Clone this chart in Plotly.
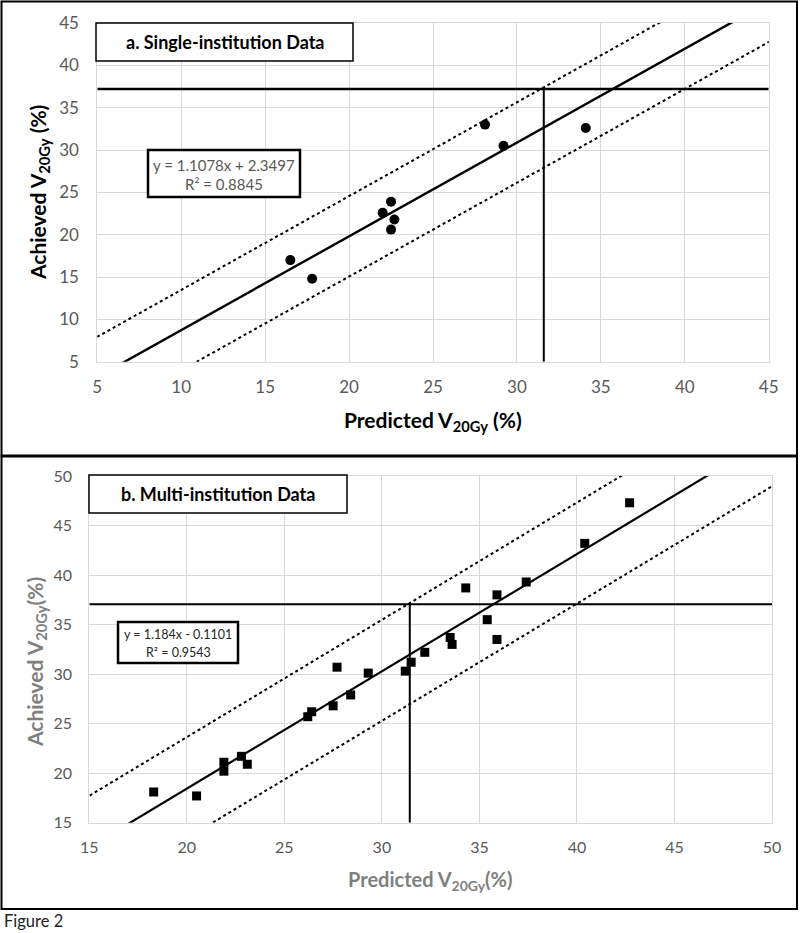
import plotly.graph_objects as go

# ---------------- data ----------------
# Panel a: single-institution
pred_a = [16.5, 17.8, 22.0, 22.5, 22.7, 22.5, 28.1, 29.2, 34.1]
ach_a = [17.0, 14.8, 22.6, 23.9, 21.8, 20.6, 33.0, 30.5, 32.6]
slope_a = 1.1078
icpt_a_drawn = -2.3497
band_a = 4.75
thresh_y_a = 37.2
thresh_x_a = 31.6
eq_a = "y = 1.1078x + 2.3497"
r2_a = "R² = 0.8845"

# Panel b: multi-institution
pred_b = [18.3, 20.5, 21.9, 21.9, 22.8, 23.1, 26.2, 26.4, 27.5, 27.7, 28.4, 29.3,
          31.2, 31.5, 32.2, 33.5, 33.6, 34.3, 35.4, 35.9, 35.9, 37.4, 40.4, 42.7]
ach_b = [18.1, 17.7, 21.1, 20.2, 21.7, 20.9, 25.7, 26.2, 26.8, 30.7, 27.9, 30.1,
         30.3, 31.2, 32.2, 33.7, 33.0, 38.7, 35.5, 38.0, 33.5, 39.3, 43.2, 47.3]
slope_b = 1.184
icpt_b_drawn = -5.24
band_b_up = 5.2
band_b_lo = 5.0
thresh_y_b = 37.05
thresh_x_b = 31.43
eq_b = "y = 1.184x - 0.1101"
r2_b = "R² = 0.9543"

ticks_a = [5, 10, 15, 20, 25, 30, 35, 40, 45]
ticks_b = [15, 20, 25, 30, 35, 40, 45, 50]

# ---------------- helpers ----------------
W, H = 800, 933


def px(x):
    return x / W


def py(y):
    return 1 - y / H


def line_pts(xs, m, b):
    return [m * x + b for x in xs]


fig = go.Figure()

# ---------------- panel a ----------------
xa_ext = [ticks_a[0] - 10, ticks_a[-1] + 10]
fig.add_trace(go.Scatter(x=xa_ext, y=line_pts(xa_ext, slope_a, icpt_a_drawn + band_a),
                         mode="lines", line=dict(color="black", width=2, dash="dot"),
                         xaxis="x", yaxis="y", showlegend=False))
fig.add_trace(go.Scatter(x=xa_ext, y=line_pts(xa_ext, slope_a, icpt_a_drawn - band_a),
                         mode="lines", line=dict(color="black", width=2, dash="dot"),
                         xaxis="x", yaxis="y", showlegend=False))
fig.add_trace(go.Scatter(x=xa_ext, y=line_pts(xa_ext, slope_a, icpt_a_drawn),
                         mode="lines", line=dict(color="black", width=2.4),
                         xaxis="x", yaxis="y", showlegend=False))
fig.add_trace(go.Scatter(x=[ticks_a[0], ticks_a[-1]], y=[thresh_y_a, thresh_y_a],
                         mode="lines", line=dict(color="black", width=2.5),
                         xaxis="x", yaxis="y", showlegend=False))
fig.add_trace(go.Scatter(x=[thresh_x_a, thresh_x_a], y=[ticks_a[0], thresh_y_a],
                         mode="lines", line=dict(color="black", width=2),
                         xaxis="x", yaxis="y", showlegend=False))
fig.add_trace(go.Scatter(x=pred_a, y=ach_a, mode="markers",
                         marker=dict(symbol="circle", size=10, color="black"),
                         xaxis="x", yaxis="y", showlegend=False, cliponaxis=False))

# ---------------- panel b ----------------
xb_ext = [ticks_b[0] - 10, ticks_b[-1] + 10]
fig.add_trace(go.Scatter(x=xb_ext, y=line_pts(xb_ext, slope_b, icpt_b_drawn + band_b_up),
                         mode="lines", line=dict(color="black", width=2, dash="dot"),
                         xaxis="x2", yaxis="y2", showlegend=False))
fig.add_trace(go.Scatter(x=xb_ext, y=line_pts(xb_ext, slope_b, icpt_b_drawn - band_b_lo),
                         mode="lines", line=dict(color="black", width=2, dash="dot"),
                         xaxis="x2", yaxis="y2", showlegend=False))
fig.add_trace(go.Scatter(x=xb_ext, y=line_pts(xb_ext, slope_b, icpt_b_drawn),
                         mode="lines", line=dict(color="black", width=2.2),
                         xaxis="x2", yaxis="y2", showlegend=False))
fig.add_trace(go.Scatter(x=[ticks_b[0], ticks_b[-1]], y=[thresh_y_b, thresh_y_b],
                         mode="lines", line=dict(color="black", width=2),
                         xaxis="x2", yaxis="y2", showlegend=False))
fig.add_trace(go.Scatter(x=[thresh_x_b, thresh_x_b], y=[ticks_b[0], thresh_y_b],
                         mode="lines", line=dict(color="black", width=2),
                         xaxis="x2", yaxis="y2", showlegend=False))
fig.add_trace(go.Scatter(x=pred_b, y=ach_b, mode="markers",
                         marker=dict(symbol="square", size=9, color="black"),
                         xaxis="x2", yaxis="y2", showlegend=False, cliponaxis=False))

grid = "#d9d9d9"
tickc = "#595959"
axis_common = dict(showgrid=True, gridcolor=grid, gridwidth=1, zeroline=False,
                   showline=True, linecolor=grid, linewidth=1, mirror=True,
                   ticks="", fixedrange=True, automargin=False)

fig.update_layout(
    width=W, height=H,
    margin=dict(l=0, r=0, t=0, b=0),
    paper_bgcolor="white", plot_bgcolor="white",
    showlegend=False,
    xaxis=dict(domain=[px(97.3), px(768.7)], range=[ticks_a[0], ticks_a[-1]],
               tickvals=ticks_a, anchor="y", ticklabelstandoff=10,
               tickfont=dict(family="Lato", size=17, color=tickc), **axis_common),
    yaxis=dict(domain=[py(361.7), py(23)], range=[ticks_a[0], ticks_a[-1]],
               tickvals=ticks_a, anchor="x", ticklabelstandoff=14,
               tickfont=dict(family="Lato", size=17, color=tickc), **axis_common),
    xaxis2=dict(domain=[px(89.3), px(772)], range=[ticks_b[0], ticks_b[-1]],
                tickvals=ticks_b, anchor="y2", ticklabelstandoff=10,
                tickfont=dict(family="Lato", size=16, color=tickc), **axis_common),
    yaxis2=dict(domain=[py(822.7), py(476)], range=[ticks_b[0], ticks_b[-1]],
                tickvals=ticks_b, anchor="x2", ticklabelstandoff=13,
                tickfont=dict(family="Lato", size=16, color=tickc), **axis_common),
)

shapes = []
# panel frames
shapes.append(dict(type="rect", xref="paper", yref="paper",
                   x0=px(1.5), x1=px(797), y0=py(455.5), y1=py(1.5),
                   line=dict(color="black", width=2)))
shapes.append(dict(type="rect", xref="paper", yref="paper",
                   x0=px(1.5), x1=px(797), y0=py(909), y1=py(456.5),
                   line=dict(color="black", width=2)))
# panel label boxes
shapes.append(dict(type="rect", xref="paper", yref="paper",
                   x0=px(96), x1=px(353), y0=py(61), y1=py(23),
                   line=dict(color="black", width=1.5), fillcolor="white"))
shapes.append(dict(type="rect", xref="paper", yref="paper",
                   x0=px(89), x1=px(347), y0=py(513), y1=py(475),
                   line=dict(color="black", width=1.5), fillcolor="white"))
# equation boxes
shapes.append(dict(type="rect", xref="paper", yref="paper",
                   x0=px(148), x1=px(300), y0=py(197), y1=py(150),
                   line=dict(color="black", width=2.5), fillcolor="white"))
shapes.append(dict(type="rect", xref="paper", yref="paper",
                   x0=px(118), x1=px(238), y0=py(663), y1=py(622),
                   line=dict(color="black", width=2.5), fillcolor="white"))
fig.update_layout(shapes=shapes)


def ann(text, x, y, size, color="black", family="Lato", bold=False, angle=0,
        xanchor="center"):
    if bold:
        text = "<b>" + text + "</b>"
    return dict(text=text, x=px(x), y=py(y), xref="paper", yref="paper",
                showarrow=False, xanchor=xanchor, yanchor="middle",
                textangle=angle, font=dict(family=family, size=size, color=color))


annotations = [
    ann("a. Single-institution Data", 224.5, 42, 18, bold=True),
    ann("b. Multi-institution Data", 218, 494, 18, bold=True),
    ann(eq_a, 224, 165, 15, color="#595959"),
    ann(r2_a, 224, 184, 15, color="#595959"),
    ann(eq_b, 178, 634, 12.5, color="#262626"),
    ann(r2_b, 178, 652, 12.5, color="#262626"),
    ann("Predicted V<sub>20Gy</sub> (%)", 433, 421, 21, bold=True),
    ann("Achieved V<sub>20Gy</sub> (%)", 39, 193, 21, bold=True, angle=-90),
    ann("Predicted V<sub>20Gy</sub>(%)", 430, 880, 20, color="#7f7f7f", bold=True),
    ann("Achieved V<sub>20Gy</sub>(%)", 36, 662, 21, color="#7f7f7f", bold=True,
        angle=-90),
    ann("Figure 2", 2, 921, 16.5, color="#222222", xanchor="left"),
]
fig.update_layout(annotations=annotations)

fig.write_html("out.html",
               config={"displayModeBar": False},
               post_script="document.body.style.margin='0';"
                           "document.body.style.overflow='hidden';")
